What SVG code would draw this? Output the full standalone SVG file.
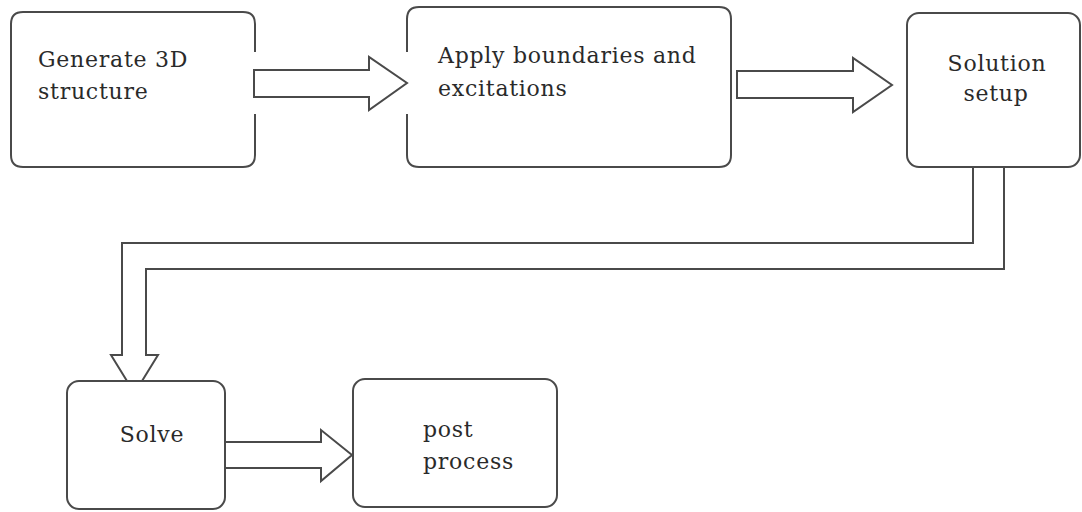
<svg xmlns="http://www.w3.org/2000/svg" width="1082" height="512" viewBox="0 0 1082 512">
  <style>
    .box { fill: #ffffff; stroke: #4a4a4a; stroke-width: 2; }
    .edge { fill: none; stroke: #4a4a4a; stroke-width: 2; stroke-linejoin: miter; }
    .arrow { fill: #ffffff; stroke: #4a4a4a; stroke-width: 2; stroke-linejoin: miter; }
    .label { font-family: "DejaVu Serif", "Liberation Serif", serif; font-size: 22px; fill: #2a2a2a; letter-spacing: 0.75px; }
  </style>
  <rect width="1082" height="512" fill="#ffffff"/>

  <!-- connectors -->
  <g id="connectors">
    <path class="arrow" d="M254,70 H369 V57 L407,83 L369,110 V97 H254 Z"/>
    <path class="arrow" d="M737,71 H853 V58 L892,85 L853,112 V98 H737 Z"/>
    <path class="edge" d="M973,167 V243 H122 V355 H111 L127,381 M142,381 L158,355 H146 V269 H1004 V167"/>
    <path class="arrow" d="M225,442 H321 V430 L352,455 L321,481 V468 H225"/>
  </g>

  <!-- step 1 -->
  <g id="node-generate">
    <path class="edge" d="M255,52 V24 Q255,12 243,12 H23 Q11,12 11,24 V155 Q11,167 23,167 H243 Q255,167 255,155 V114"/>
    <text class="label" x="38" y="67">Generate 3D</text>
    <text class="label" x="38" y="99">structure</text>
  </g>

  <!-- step 2 -->
  <g id="node-boundaries">
    <path class="edge" d="M407,114 V155 Q407,167 419,167 H719 Q731,167 731,155 V19 Q731,7 719,7 H419 Q407,7 407,19 V52"/>
    <text class="label" x="438" y="63">Apply boundaries and</text>
    <text class="label" x="438" y="96">excitations</text>
  </g>

  <!-- step 3 -->
  <g id="node-setup">
    <rect class="box" x="907" y="13" width="173" height="154" rx="12"/>
    <text class="label" x="997" y="71" text-anchor="middle">Solution</text>
    <text class="label" x="996" y="101" text-anchor="middle">setup</text>
  </g>

  <!-- step 4 -->
  <g id="node-solve">
    <rect class="box" x="67" y="381" width="158" height="128" rx="12"/>
    <text class="label" x="152" y="442" text-anchor="middle">Solve</text>
  </g>

  <!-- step 5 -->
  <g id="node-post">
    <rect class="box" x="353" y="379" width="204" height="128" rx="12"/>
    <text class="label" x="423" y="437">post</text>
    <text class="label" x="423" y="469">process</text>
  </g>
</svg>
